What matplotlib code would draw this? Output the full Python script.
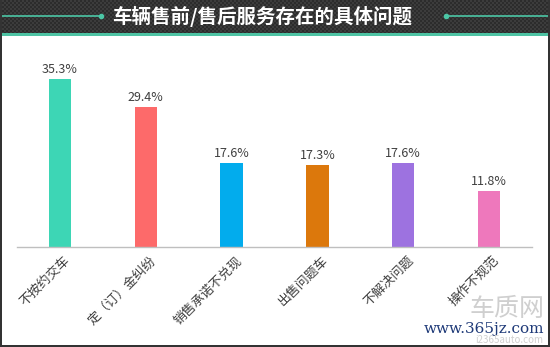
import numpy as np
import matplotlib
matplotlib.use("Agg")
import matplotlib.pyplot as plt
from matplotlib.patches import Rectangle

plt.rcParams['font.family'] = ['Noto Sans CJK SC', 'DejaVu Sans']

title = "车辆售前/售后服务存在的具体问题"
categories = ["不按约交车", "定（订）金纠纷", "销售承诺不兑现", "出售问题车", "不解决问题", "操作不规范"]
values = [35.3, 29.4, 17.6, 17.3, 17.6, 11.8]
colors = ["#3dd6b5", "#fd6a6a", "#02aced", "#dc780c", "#9d72e0", "#ee78bc"]

W, H = 550, 347
fig = plt.figure(figsize=(W / 100, H / 100), dpi=100)
fig.patch.set_facecolor("white")

# header band with a fine checker texture
hdr = fig.add_axes([0, 1 - 33 / H, 1, 33 / H])
yy, xx = np.mgrid[0:33, 0:550]
checker = ((xx // 2 + yy // 2) % 2).astype(float)
hdr.imshow(checker, cmap=matplotlib.colors.ListedColormap(["#2c2c2c", "#3c3c3c"]),
           aspect="auto", extent=[0, 550, 33, 0], interpolation="nearest")
hdr.set_xlim(0, 550)
hdr.set_ylim(33, 0)
hdr.axis("off")
hdr.plot([0, 101], [16, 16], color="#4cc7a6", lw=1.2)
hdr.plot([101], [16], "o", color="#4cc7a6", ms=3)
hdr.plot([446, 550], [16, 16], color="#4cc7a6", lw=1.2)
hdr.plot([446], [16], "o", color="#4cc7a6", ms=3)
hdr.text(262, 16.5, title, color="white", fontsize=14, fontweight="bold",
         ha="center", va="center")

# teal strip under the header
fig.patches.append(Rectangle((0, 1 - 35.5 / H), 1, 2.5 / H, transform=fig.transFigure,
                             facecolor="#4dc3a3", edgecolor="none", zorder=5))

# dark frame around the white body
for (x0, y0, w, h) in [(0, 0, 2 / W, 1), (1 - 2 / W, 0, 2 / W, 1), (0, 0, 1, 2 / H)]:
    fig.patches.append(Rectangle((x0, y0), w, h, transform=fig.transFigure,
                                 facecolor="#333333", edgecolor="none", zorder=5))

# main bar chart
ax_left, ax_right = 17 / W, 532 / W
base_y = 247
ymax = 40.0
px_per_unit = 168 / 35.3
ax_h = ymax * px_per_unit
ax = fig.add_axes([ax_left, (H - base_y) / H, ax_right - ax_left, ax_h / H])
x = np.arange(len(categories))
ax.bar(x, values, width=0.26, color=colors, zorder=2)
for xi, v in zip(x, values):
    ax.text(xi, v + 0.6, f"{v}%", ha="center", va="bottom", fontsize=9, color="#404040")
ax.set_xlim(-0.5, len(categories) - 0.5)
ax.set_ylim(0, ymax)
ax.set_yticks([])
ax.set_xticks(x + 0.04)
ax.set_xticklabels(categories, rotation=45, ha="right", va="top", rotation_mode="anchor",
                   fontsize=9.3, color="#404040")
ax.tick_params(axis="x", length=0, pad=5)
for side in ["top", "left", "right"]:
    ax.spines[side].set_visible(False)
ax.spines["bottom"].set_color("#bfbfbf")
ax.spines["bottom"].set_linewidth(1)
ax.patch.set_alpha(0)

# site watermark
fig.text(507 / W, 1 - 309 / H, "车质网", fontsize=18, color="#cfcfcf",
         ha="center", va="center")
fig.text(544 / W, 1 - 329 / H, "www.365jz.com", fontsize=11, color="#1f3a78",
         family=["DejaVu Serif"], ha="right", va="center")
fig.text(543 / W, 1 - 340 / H, "i2365auto.com", fontsize=7, color="#d0d0d0",
         ha="right", va="center")

fig.savefig("out.png", dpi=100, facecolor="white")
